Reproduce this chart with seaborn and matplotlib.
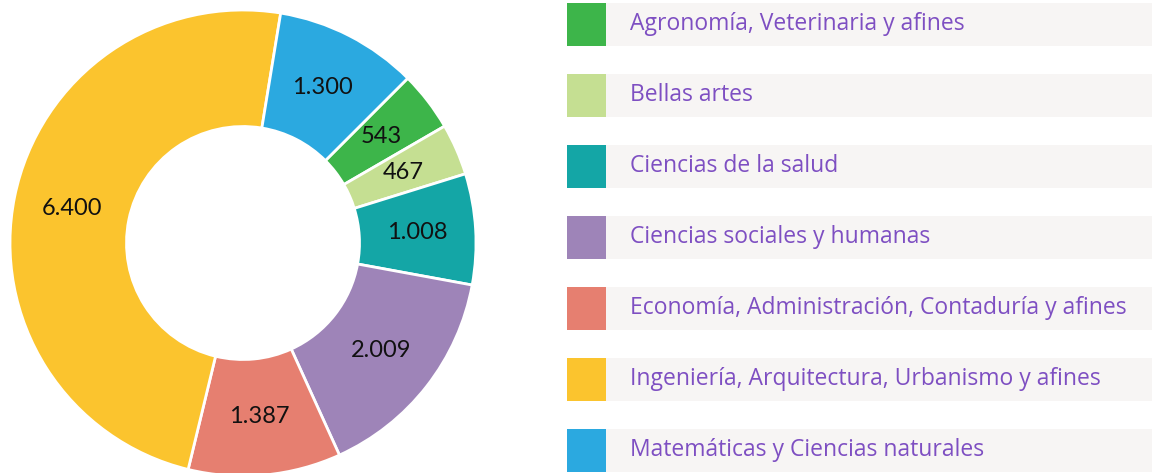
import matplotlib
matplotlib.use("Agg")
import matplotlib.pyplot as plt
import numpy as np
import seaborn as sns

# categories in legend / drawing order (clockwise from 45 deg)
categorias = [
    "Agronomía, Veterinaria y afines",
    "Bellas artes",
    "Ciencias de la salud",
    "Ciencias sociales y humanas",
    "Economía, Administración, Contaduría y afines",
    "Ingeniería, Arquitectura, Urbanismo y afines",
    "Matemáticas y Ciencias naturales",
]
valores = [543, 467, 1008, 2009, 1387, 6400, 1300]
etiquetas = ["543", "467", "1.008", "2.009", "1.387", "6.400", "1.300"]
colores = ["#3db54a", "#c5df92", "#14a6a6", "#9e84b8", "#e67f70", "#fbc42e", "#2ba9e0"]

sns.set_theme(style="white")
plt.rcParams["font.family"] = ["Lato", "DejaVu Sans"]

fig = plt.figure(figsize=(11.52, 4.73), dpi=100)

# donut
ax = fig.add_axes([10 / 1152, 1 - 476 / 473, 466 / 1152, 466 / 473])
wedges, _ = ax.pie(
    valores, colors=colores, startangle=45, counterclock=False,
    radius=1.0, wedgeprops=dict(width=0.5, edgecolor="white", linewidth=2),
)
for w, lab in zip(wedges, etiquetas):
    ang = np.deg2rad((w.theta1 + w.theta2) / 2)
    r = 0.75
    ax.text(r * np.cos(ang), r * np.sin(ang), lab, ha="center", va="center",
            fontsize=17, color="#111111")
ax.set_aspect("equal")
ax.set_xlim(-1, 1)
ax.set_ylim(-1, 1)
ax.axis("off")

# legend
lg = fig.add_axes([567 / 1152, 0, 585 / 1152, 1])
n = len(categorias)
filas = list(range(n))
lg.barh(filas, [585] * n, height=43 / 71, color="#f7f5f4", left=0, linewidth=0)
lg.barh(filas, [39] * n, height=43 / 71, color=colores, left=0, linewidth=0)
for i, cat in enumerate(categorias):
    lg.text(63, i, cat, ha="left", va="center", fontsize=16.5,
            color="#7e4fc2", family=["Open Sans", "DejaVu Sans"])
lg.set_xlim(0, 585)
lg.set_ylim((473 - 24) / 71, -24 / 71)
lg.axis("off")

fig.savefig("out.png", dpi=100)
